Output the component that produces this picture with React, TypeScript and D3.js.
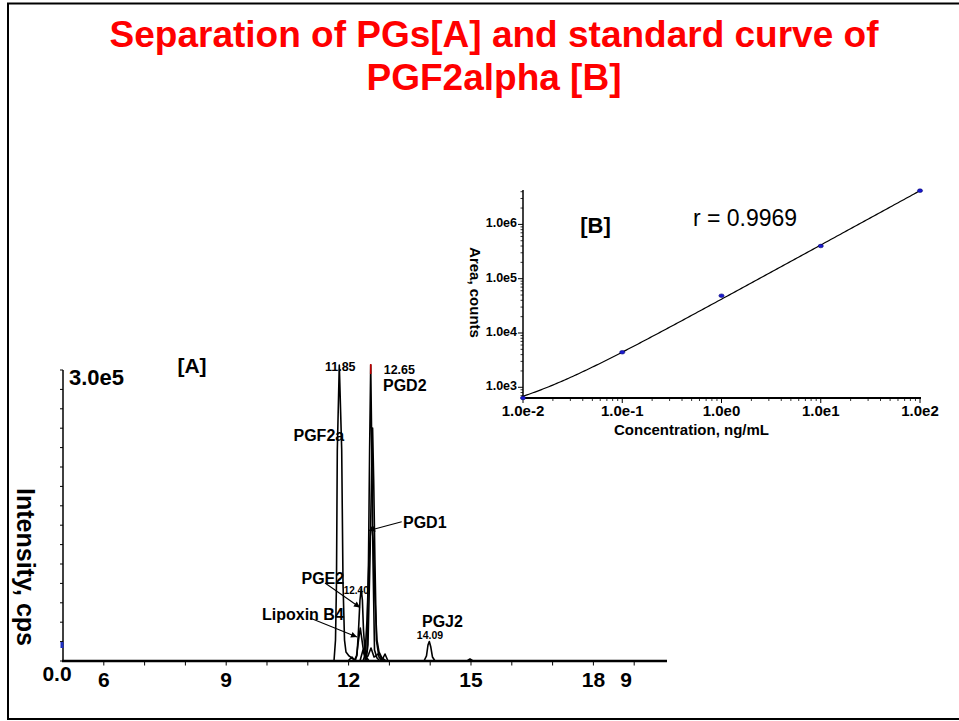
import React from "react";
import * as d3 from "d3";

type Pt = [number, number];

// ---------- Title ----------
const TITLE_LINE_1 = "Separation of PGs[A] and standard curve of";
const TITLE_LINE_2 = "PGF2alpha [B]";

// ---------- [A] chromatogram traces: [time (min), intensity (cps)] ----------
const TRACE_PGF2A: Pt[] = [
  [11.642, 0], [11.679, 21600], [11.703, 80400], [11.723, 217500], [11.772, 305100],
  [11.831, 217500], [11.863, 80400], [11.9, 21600], [11.936, 9300], [12.01, 5200],
  [12.108, 2100], [12.206, 0],
];
const TRACE_PGD2: Pt[] = [
  [12.402, 0], [12.451, 11300], [12.488, 104100], [12.515, 217500], [12.542, 305100],
  [12.569, 217500], [12.598, 104100], [12.635, 11300], [12.696, 3100], [12.77, 0],
];
const TRACE_PGD2_B: Pt[] = [
  [12.426, 0], [12.475, 16500], [12.524, 104100], [12.561, 186600], [12.588, 240200],
  [12.615, 186600], [12.645, 104100], [12.681, 21600], [12.745, 4100], [12.819, 0],
];
const TRACE_PGD1: Pt[] = [
  [12.353, 0], [12.402, 6200], [12.451, 42300], [12.5, 104100], [12.537, 135100],
  [12.574, 138100], [12.61, 119600], [12.647, 62900], [12.696, 21600], [12.745, 9300],
  [12.819, 3100], [12.917, 0],
];
const TRACE_PGE2: Pt[] = [
  [12.157, 0], [12.206, 6200], [12.243, 32000], [12.279, 62900], [12.309, 74200],
  [12.338, 62900], [12.365, 32000], [12.402, 9300], [12.451, 3100], [12.5, 0],
];
const TRACE_LXB4: Pt[] = [
  [12.132, 0], [12.194, 5200], [12.243, 21600], [12.287, 34000], [12.328, 21600],
  [12.377, 7200], [12.426, 0],
];
const TRACE_MINOR: Pt[] = [
  [11.985, 0], [12.083, 4100], [12.157, 0], [12.279, 0], [12.353, 11300], [12.426, 4100],
  [12.475, 5200], [12.549, 13400], [12.623, 4100], [12.672, 5200], [12.745, 8200],
  [12.819, 1000], [12.892, 7200], [12.966, 0],
];
const TRACE_PGJ2: Pt[] = [
  [13.848, 0], [13.909, 5200], [13.946, 16500], [13.978, 20100], [14.015, 14400],
  [14.056, 4100], [14.118, 0],
];
const TRACE_BUMP15: Pt[] = [[14.902, 0], [14.975, 2100], [15.049, 0]];

const TRACES: Pt[][] = [
  TRACE_PGF2A, TRACE_PGD2, TRACE_PGD2_B, TRACE_PGD1, TRACE_PGE2, TRACE_LXB4,
  TRACE_MINOR, TRACE_PGJ2, TRACE_BUMP15,
];

const TIME_DOMAIN: Pt = [5.0, 19.804];
const TIME_TICKS = [6, 7, 8, 9, 10, 11, 12, 13, 14, 15, 16, 17, 18, 19];
const TIME_LABELS = ["6", "9", "12", "15", "18"];
const TIME_LABEL_VALUES = [6, 9, 12, 15, 18];
const STRAY_TIME_LABEL = "9";
const STRAY_TIME_VALUE = 18.8;
const INTENSITY_MAX = 3.0e5;
const INTENSITY_TICK_STEP = 2e4;
const INTENSITY_TOP_LABEL = "3.0e5";
const INTENSITY_ZERO_LABEL = "0.0";

// peak annotations (anchors in data units)
const RT_LABELS = [
  { text: "11.85", t: 11.772, v: 305100 },
  { text: "12.65", t: 12.542, v: 305100 },
  { text: "12.40", t: 12.309, v: 74200 },
  { text: "14.09", t: 13.978, v: 20100 },
];
const COMPOUND_LABELS = ["PGD2", "PGF2a", "PGD1", "PGE2", "Lipoxin B4", "PGJ2"];
const ARROWS = [
  { from: [13.301, 143600], to: [12.5, 134500] },
  { from: [11.422, 80400], to: [12.279, 55200] },
  { from: [11.054, 44300], to: [12.206, 24700] },
];

// ---------- [B] standard curve ----------
const CONC = [0.01, 0.1, 1, 10, 100];
const AREA = [635, 4420, 48600, 400000, 4180000];
const CONC_TICKS = [0.01, 0.1, 1, 10, 100];
const CONC_LABELS = ["1.0e-2", "1.0e-1", "1.0e0", "1.0e1", "1.0e2"];
const AREA_TICKS = [1e3, 1e4, 1e5, 1e6];
const AREA_LABELS = ["1.0e3", "1.0e4", "1.0e5", "1.0e6"];
const AREA_DOMAIN: Pt = [635, 4.3e6];
const R_TEXT = "r = 0.9969";

const FONT = "'Liberation Sans', Arial, Helvetica, sans-serif";

// weighted (1/x) linear regression in linear space: y = a + b x
function weightedLinearFit(xs: number[], ys: number[]): [number, number] {
  let sw = 0, swx = 0, swxx = 0, swy = 0, swxy = 0;
  xs.forEach((x, i) => {
    const w = 1 / x;
    const y = ys[i];
    sw += w; swx += w * x; swxx += w * x * x; swy += w * y; swxy += w * x * y;
  });
  const det = sw * swxx - swx * swx;
  const a = (swy * swxx - swx * swxy) / det;
  const b = (sw * swxy - swx * swy) / det;
  return [a, b];
}

export default function App() {
  // ---- [A] scales ----
  const xA = d3.scaleLinear().domain(TIME_DOMAIN).range([63, 667]);
  const yA = d3.scaleLinear().domain([0, INTENSITY_MAX]).range([661, 370]);
  const lineA = d3
    .line<Pt>()
    .x((d) => xA(d[0]))
    .y((d) => yA(d[1]))
    .curve(d3.curveLinear);
  const intensityTicks = d3.range(0, INTENSITY_MAX + 1, INTENSITY_TICK_STEP);

  // ---- [B] scales ----
  const xB = d3.scaleLog().domain([0.01, 100]).range([523, 920]);
  const yB = d3.scaleLog().domain(AREA_DOMAIN).range([398, 190]);
  const [fa, fb] = weightedLinearFit(CONC, AREA);
  const fitPts: Pt[] = d3.range(0, 201).map((i) => {
    const u = -2 + (4 * i) / 200;
    const x = Math.pow(10, u);
    return [x, fa + fb * x];
  });
  const lineB = d3
    .line<Pt>()
    .x((d) => xB(d[0]))
    .y((d) => Math.min(398, yB(d[1])));
  const concMinor: number[] = [];
  [0.01, 0.1, 1, 10].forEach((dec) => {
    for (let k = 2; k <= 9; k++) concMinor.push(dec * k);
  });
  const areaMinor: number[] = [];
  [100, 1e3, 1e4, 1e5, 1e6].forEach((dec) => {
    for (let k = 2; k <= 9; k++) {
      const v = dec * k;
      if (v >= AREA_DOMAIN[0] && v <= AREA_DOMAIN[1]) areaMinor.push(v);
    }
  });

  const bold = { fontFamily: FONT, fontWeight: 700 as const };
  const pgd2Apex = TRACE_PGD2[4];

  return (
    <svg
      width={959}
      height={721}
      style={{ position: "absolute", left: 0, top: 0, background: "#fff" }}
    >
      <defs>
        <marker
          id="arrowHead"
          viewBox="0 0 10 10"
          refX="10"
          refY="5"
          markerWidth="8"
          markerHeight="6"
          markerUnits="userSpaceOnUse"
          orient="auto"
        >
          <path d="M0,0 L10,5 L0,10 z" fill="#000" />
        </marker>
      </defs>
      <rect x={0} y={0} width={959} height={721} fill="#fff" />
      {/* frame */}
      <rect x={8} y={3.5} width={970} height={715.5} fill="none" stroke="#000" strokeWidth={2} />

      {/* title */}
      <text x={494} y={47} textAnchor="middle" fill="#ff0000" fontSize={37} {...bold}>
        {TITLE_LINE_1}
      </text>
      <text x={494} y={90} textAnchor="middle" fill="#ff0000" fontSize={37} {...bold}>
        {TITLE_LINE_2}
      </text>

      {/* ================= [A] ================= */}
      {TRACES.map((tr, i) => (
        <path
          key={i}
          d={lineA(tr) || ""}
          fill="none"
          stroke="#000"
          strokeWidth={1.6}
          strokeLinejoin="round"
        />
      ))}
      <line
        x1={xA(pgd2Apex[0])}
        x2={xA(pgd2Apex[0])}
        y1={yA(pgd2Apex[1]) - 1}
        y2={yA(pgd2Apex[1]) + 9}
        stroke="#c00000"
        strokeWidth={1.6}
      />
      <line x1={63} x2={63} y1={370} y2={662} stroke="#000" strokeWidth={1.5} />
      {intensityTicks.map((v, i) => (
        <line key={i} x1={60} x2={63} y1={yA(v)} y2={yA(v)} stroke="#000" strokeWidth={1} />
      ))}
      <rect x={60.5} y={642} width={3} height={6} fill="#2030c0" />
      <line x1={62} x2={667} y1={661} y2={661} stroke="#000" strokeWidth={2.6} />
      {TIME_TICKS.map((t, i) => (
        <line key={i} x1={xA(t)} x2={xA(t)} y1={661} y2={665.5} stroke="#000" strokeWidth={1} />
      ))}
      {TIME_LABEL_VALUES.map((t, i) => (
        <text key={i} x={xA(t)} y={687} textAnchor="middle" fontSize={21} {...bold}>
          {TIME_LABELS[i]}
        </text>
      ))}
      <text x={xA(STRAY_TIME_VALUE)} y={687} textAnchor="middle" fontSize={21} {...bold}>
        {STRAY_TIME_LABEL}
      </text>
      <text x={57} y={681} textAnchor="middle" fontSize={21} {...bold}>
        {INTENSITY_ZERO_LABEL}
      </text>
      <text x={69} y={385} fontSize={22} {...bold}>
        {INTENSITY_TOP_LABEL}
      </text>
      <text x={192} y={373} textAnchor="middle" fontSize={21} {...bold}>
        [A]
      </text>
      <text
        transform="translate(17,567) rotate(90)"
        textAnchor="middle"
        fontSize={25}
        {...bold}
      >
        Intensity, cps
      </text>

      {/* retention time labels */}
      <text x={xA(RT_LABELS[0].t) + 1} y={yA(RT_LABELS[0].v) + 6} textAnchor="middle" fontSize={12.5} {...bold}>
        {RT_LABELS[0].text}
      </text>
      <text x={xA(RT_LABELS[1].t) + 13} y={yA(RT_LABELS[1].v) + 9} fontSize={12.5} {...bold}>
        {RT_LABELS[1].text}
      </text>
      <text x={xA(RT_LABELS[2].t) - 17.5} y={yA(RT_LABELS[2].v) + 5} fontSize={10} {...bold}>
        {RT_LABELS[2].text}
      </text>
      <text x={xA(RT_LABELS[3].t) - 12.5} y={yA(RT_LABELS[3].v) - 3} fontSize={10.5} {...bold}>
        {RT_LABELS[3].text}
      </text>

      {/* compound labels */}
      <text x={383} y={391} fontSize={16} {...bold}>{COMPOUND_LABELS[0]}</text>
      <text x={293.5} y={441} fontSize={16} {...bold}>{COMPOUND_LABELS[1]}</text>
      <text x={403} y={527.5} fontSize={16} {...bold}>{COMPOUND_LABELS[2]}</text>
      <text x={301.5} y={583.5} fontSize={16} {...bold}>{COMPOUND_LABELS[3]}</text>
      <text x={262} y={620} fontSize={16} {...bold}>{COMPOUND_LABELS[4]}</text>
      <text x={422} y={627} fontSize={16} {...bold}>{COMPOUND_LABELS[5]}</text>

      {ARROWS.map((a, i) => (
        <line
          key={i}
          x1={xA(a.from[0])}
          y1={yA(a.from[1])}
          x2={xA(a.to[0])}
          y2={yA(a.to[1])}
          stroke="#000"
          strokeWidth={1.1}
          markerEnd="url(#arrowHead)"
        />
      ))}

      {/* ================= [B] ================= */}
      <path d={lineB(fitPts) || ""} fill="none" stroke="#000" strokeWidth={1.2} />
      <line x1={523} x2={523} y1={190} y2={398} stroke="#000" strokeWidth={1.5} />
      <line x1={522} x2={921} y1={398} y2={398} stroke="#000" strokeWidth={2} />
      {AREA_TICKS.map((v, i) => (
        <g key={i}>
          <line x1={518} x2={523} y1={yB(v)} y2={yB(v)} stroke="#000" strokeWidth={1} />
          <text x={517} y={yB(v) + 3} textAnchor="end" fontSize={12.5} {...bold}>
            {AREA_LABELS[i]}
          </text>
        </g>
      ))}
      {areaMinor.map((v, i) => (
        <line key={i} x1={520.5} x2={523} y1={yB(v)} y2={yB(v)} stroke="#000" strokeWidth={0.8} />
      ))}
      {CONC_TICKS.map((v, i) => (
        <g key={i}>
          <line x1={xB(v)} x2={xB(v)} y1={398} y2={403} stroke="#000" strokeWidth={1} />
          <text x={xB(v)} y={416} textAnchor="middle" fontSize={15} {...bold}>
            {CONC_LABELS[i]}
          </text>
        </g>
      ))}
      {concMinor.map((v, i) => (
        <line key={i} x1={xB(v)} x2={xB(v)} y1={398} y2={401} stroke="#000" strokeWidth={0.8} />
      ))}
      {CONC.map((c, i) => (
        <ellipse
          key={i}
          cx={xB(c)}
          cy={yB(AREA[i])}
          rx={2.6}
          ry={1.8}
          fill="#1a1ad0"
          stroke="#000070"
          strokeWidth={0.6}
        />
      ))}
      <text x={691.5} y={435} textAnchor="middle" fontSize={15} {...bold}>
        Concentration, ng/mL
      </text>
      <text
        transform="translate(470,292.5) rotate(90)"
        textAnchor="middle"
        fontSize={15}
        {...bold}
      >
        Area, counts
      </text>
      <text x={595.5} y={233} textAnchor="middle" fontSize={22} {...bold}>
        [B]
      </text>
      <text x={745} y={226} textAnchor="middle" fontSize={23} fontFamily={FONT}>
        {R_TEXT}
      </text>
    </svg>
  );
}
